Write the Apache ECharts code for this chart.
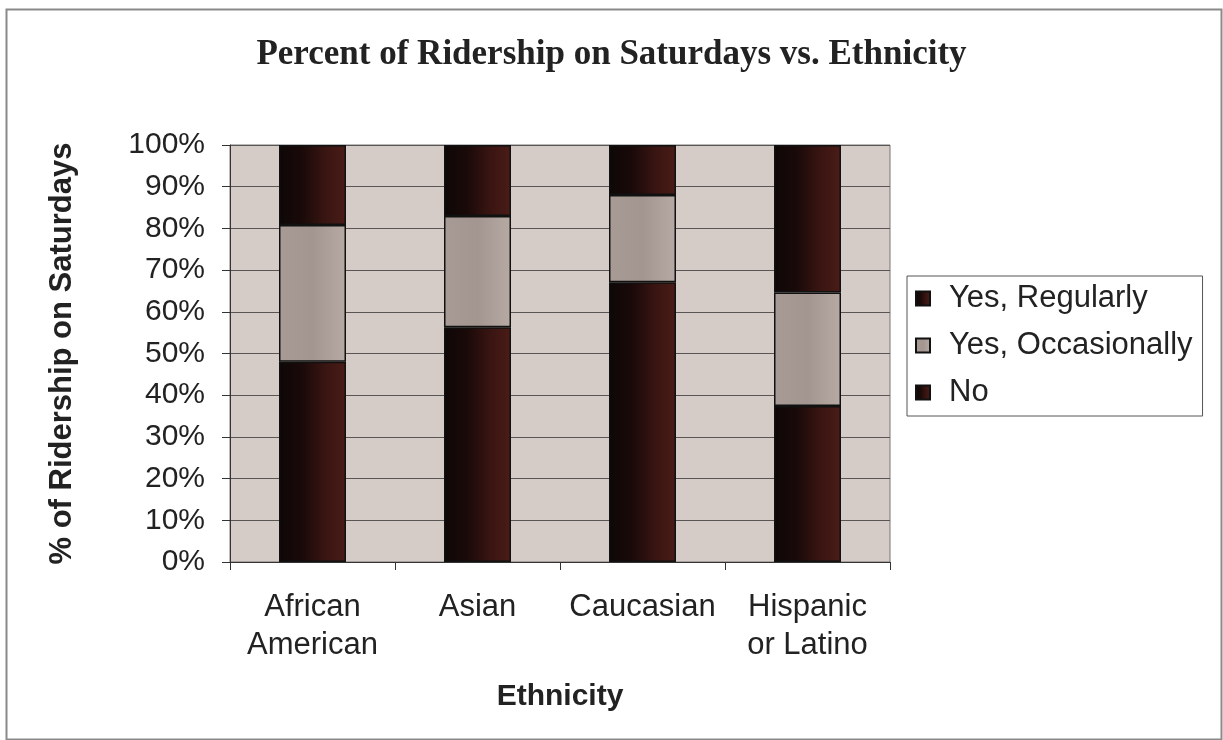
<!DOCTYPE html>
<html>
<head>
<meta charset="utf-8">
<script src="https://cdn.jsdelivr.net/npm/echarts@6/dist/echarts.min.js"></script>
<style>
html,body{margin:0;padding:0;background:#fff;}
#c{width:1223px;height:740px;}
</style>
</head>
<body>
<div id="c"></div>
<script>
const categories = ['African\nAmerican', 'Asian', 'Caucasian', 'Hispanic\nor Latino'];
const seriesNames = ['No', 'Yes, Occasionally', 'Yes, Regularly'];
const noValues = [48.0, 56.3, 67.1, 37.4];
const occasionallyValues = [32.8, 26.7, 20.9, 27.2];
const regularlyValues = [19.2, 17.0, 12.0, 35.4];
const yTicks = [0, 10, 20, 30, 40, 50, 60, 70, 80, 90, 100];

const chart = echarts.init(document.getElementById('c'));
const darkGrad = new echarts.graphic.LinearGradient(0, 0, 1, 0, [
  {offset: 0, color: '#0e0707'},
  {offset: 0.35, color: '#1a0a09'},
  {offset: 0.7, color: '#3a1512'},
  {offset: 1, color: '#4a1c17'}
]);
const grayGrad = new echarts.graphic.LinearGradient(0, 0, 1, 0, [
  {offset: 0, color: '#a89b96'},
  {offset: 0.5, color: '#a3958f'},
  {offset: 1, color: '#b7aaa4'}
]);
const fontSans = '"Liberation Sans", Arial, sans-serif';
function mk(name, data, color) {
  return {
    name: name, type: 'bar', stack: 'total', data: data,
    barWidth: 67,
    itemStyle: {color: color, borderColor: '#111', borderWidth: 1.5},
    emphasis: {disabled: true}
  };
}
chart.setOption({
  animation: false,
  backgroundColor: '#ffffff',
  title: {
    text: 'Percent of Ridership on Saturdays vs. Ethnicity',
    left: 'center', top: 32,
    textStyle: {fontFamily: '"Liberation Serif", "Times New Roman", serif', fontWeight: 'bold', fontSize: 35, color: '#222'}
  },
  grid: {left: 230, right: 333, top: 145, bottom: 178, show: true, backgroundColor: '#d6ccc7', borderColor: '#777', borderWidth: 1},
  legend: {
    data: ['Yes, Regularly', 'Yes, Occasionally', 'No'],
    orient: 'vertical',
    left: 907, top: 276,
    padding: [7, 10, 8, 8],
    itemGap: 16,
    itemWidth: 14, itemHeight: 14,
    icon: 'rect',
    borderColor: '#555', borderWidth: 1,
    backgroundColor: '#fff',
    textStyle: {fontFamily: fontSans, fontSize: 31, color: '#222', padding: [0, 0, 0, 14]},
    selectedMode: false
  },
  xAxis: {
    type: 'category',
    data: categories,
    name: 'Ethnicity',
    nameLocation: 'middle',
    nameGap: 120,
    nameTextStyle: {fontFamily: fontSans, fontSize: 30, fontWeight: 'bold', color: '#222'},
    axisLine: {lineStyle: {color: '#333', width: 1}},
    axisTick: {show: true, length: 8, interval: 0, lineStyle: {color: '#333'}},
    axisLabel: {fontFamily: fontSans, fontSize: 31, color: '#222', margin: 26, lineHeight: 38, interval: 0, hideOverlap: false}
  },
  yAxis: {
    type: 'value', min: 0, max: 100, interval: 10,
    name: '% of Ridership on Saturdays',
    nameLocation: 'middle',
    nameGap: 152,
    nameTextStyle: {fontFamily: fontSans, fontSize: 31, fontWeight: 'bold', color: '#222'},
    axisLine: {show: true, lineStyle: {color: '#333', width: 1}},
    axisTick: {show: true, length: 8, lineStyle: {color: '#333'}},
    axisLabel: {fontFamily: fontSans, fontSize: 30, color: '#222', margin: 25,
      formatter: function (v) { return yTicks.indexOf(v) >= 0 ? v + '%' : ''; }},
    splitLine: {show: true, lineStyle: {color: '#5a5555', width: 1}}
  },
  graphic: [{
    type: 'rect', left: 4, top: 7, z: -1,
    shape: {width: 1215, height: 730},
    style: {fill: 'none', stroke: '#8a8a8a', lineWidth: 2}
  }],
  series: [
    mk(seriesNames[0], noValues, darkGrad),
    mk(seriesNames[1], occasionallyValues, grayGrad),
    mk(seriesNames[2], regularlyValues, darkGrad)
  ]
});
</script>
</body>
</html>
